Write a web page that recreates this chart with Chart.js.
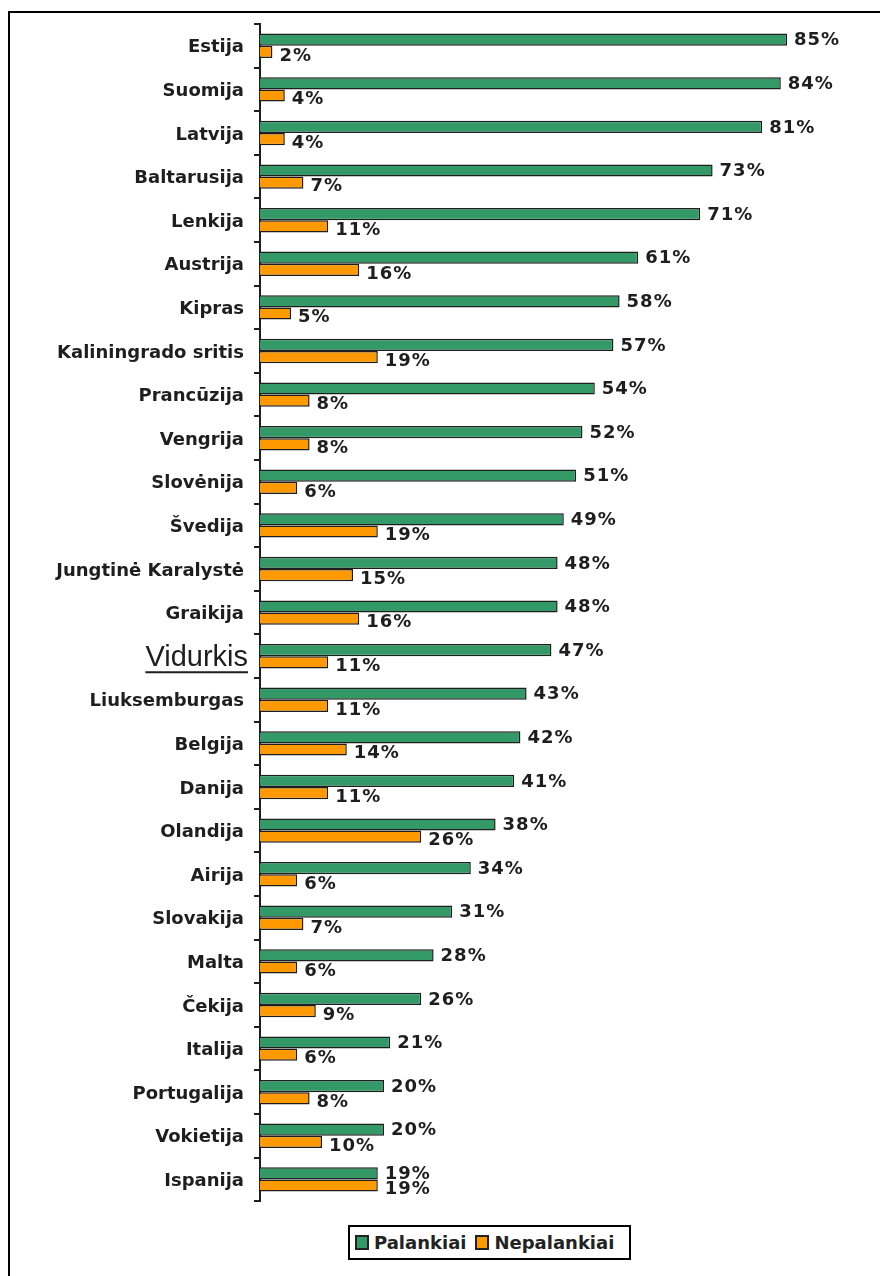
<!DOCTYPE html>
<html>
<head>
<meta charset="utf-8">
<script src="https://cdn.jsdelivr.net/npm/chart.js@4"></script>
<style>
body{margin:0;background:#fff;width:880px;height:1276px;overflow:hidden;position:relative;}
#frame{position:absolute;left:8px;top:11px;right:0;bottom:0;border-left:2px solid #000;border-top:2px solid #000;}
#chart{position:absolute;left:0;top:0;}
#legend{position:absolute;left:348px;top:1225px;width:283px;height:35px;border:2px solid #000;box-sizing:border-box;display:flex;align-items:center;padding-left:5px;font:bold 18px "DejaVu Sans";color:#222;}
#legend .item{display:flex;align-items:center;margin-right:9px;}
#legend .box{width:10px;height:11px;border:2px solid #222;margin-right:5px;}
</style>
</head>
<body>
<div id="frame"></div>
<canvas id="chart" width="880" height="1222"></canvas>
<div id="legend"></div>
<script>
var countries = ['Estija', 'Suomija', 'Latvija', 'Baltarusija', 'Lenkija', 'Austrija', 'Kipras',
  'Kaliningrado sritis', 'Prancūzija', 'Vengrija', 'Slovėnija', 'Švedija', 'Jungtinė Karalystė',
  'Graikija', 'Vidurkis', 'Liuksemburgas', 'Belgija', 'Danija', 'Olandija', 'Airija', 'Slovakija',
  'Malta', 'Čekija', 'Italija', 'Portugalija', 'Vokietija', 'Ispanija'];
var palankiai = [85, 84, 81, 73, 71, 61, 58, 57, 54, 52, 51, 49, 48, 48, 47, 43, 42, 41, 38, 34, 31, 28, 26, 21, 20, 20, 19];
var nepalankiai = [2, 4, 4, 7, 11, 16, 5, 19, 8, 8, 6, 19, 15, 16, 11, 11, 14, 11, 26, 6, 7, 6, 9, 6, 8, 10, 19];
var seriesNames = ['Palankiai', 'Nepalankiai'];

var avgIndex = countries.indexOf('Vidurkis');
var labelFont = {family: 'DejaVu Sans', size: 18, weight: 'bold'};

// percent labels at the end of each bar
var valueLabels = {
  id: 'valueLabels',
  afterDatasetsDraw: function(chart){
    var ctx = chart.ctx;
    ctx.save();
    ctx.font = 'bold 18px "DejaVu Sans"';
    ctx.fillStyle = '#1e1e1e';
    ctx.textBaseline = 'middle';
    if ('letterSpacing' in ctx) ctx.letterSpacing = '1px';
    chart.data.datasets.forEach(function(ds, d){
      chart.getDatasetMeta(d).data.forEach(function(bar, i){
        ctx.fillText(ds.data[i] + '%', bar.x + 7, bar.y + (d == 0 ? 1 : 4));
      });
    });
    ctx.restore();
  }
};

// the average row gets a bigger, underlined label
var avgLabel = {
  id: 'avgLabel',
  afterDraw: function(chart){
    var scale = chart.scales.y;
    var ctx = chart.ctx;
    var y = scale.getPixelForTick(avgIndex);
    var right = scale.right - 12;
    ctx.save();
    ctx.font = '29px "Liberation Sans"';
    ctx.fillStyle = '#1e1e1e';
    ctx.textAlign = 'right';
    ctx.textBaseline = 'middle';
    ctx.fillText(countries[avgIndex], right, y + 2);
    var w = ctx.measureText(countries[avgIndex]).width;
    ctx.strokeStyle = '#1e1e1e';
    ctx.lineWidth = 2;
    ctx.beginPath();
    ctx.moveTo(right - w, y + 16);
    ctx.lineTo(right, y + 16);
    ctx.stroke();
    ctx.restore();
  }
};

var chart = new Chart(document.getElementById('chart'), {
  type: 'bar',
  data: {
    labels: countries,
    datasets: [
      {label: seriesNames[0], data: palankiai, backgroundColor: '#339966'},
      {label: seriesNames[1], data: nepalankiai, backgroundColor: '#ff9900'}
    ]
  },
  options: {
    indexAxis: 'y',
    responsive: false,
    animation: false,
    layout: {padding: {top: 24, bottom: 18, left: 0, right: 0}},
    datasets: {
      bar: {
        categoryPercentage: 0.56,
        barPercentage: 1.0,
        borderWidth: 1.5,
        borderColor: '#1e1e1e'
      }
    },
    scales: {
      x: {display: false, min: 0, max: 100},
      y: {
        afterFit: function(scale){ scale.width = 260; },
        grid: {drawOnChartArea: false, drawTicks: true, tickLength: 6, color: '#1e1e1e', lineWidth: 2},
        border: {color: '#1e1e1e', width: 2},
        ticks: {
          autoSkip: false,
          padding: 10,
          labelOffset: 2,
          color: '#1e1e1e',
          font: labelFont,
          callback: function(v, i){ return i == avgIndex ? '' : countries[i]; }
        }
      }
    },
    plugins: {
      legend: {display: false},
      tooltip: {enabled: false}
    }
  },
  plugins: [valueLabels, avgLabel]
});

// legend box below the chart
var legendEl = document.getElementById('legend');
Chart.defaults.plugins.legend.labels.generateLabels(chart).forEach(function(item){
  var el = document.createElement('span');
  el.className = 'item';
  var box = document.createElement('span');
  box.className = 'box';
  box.style.background = item.fillStyle;
  el.appendChild(box);
  el.appendChild(document.createTextNode(item.text));
  legendEl.appendChild(el);
});
</script>
</body>
</html>
